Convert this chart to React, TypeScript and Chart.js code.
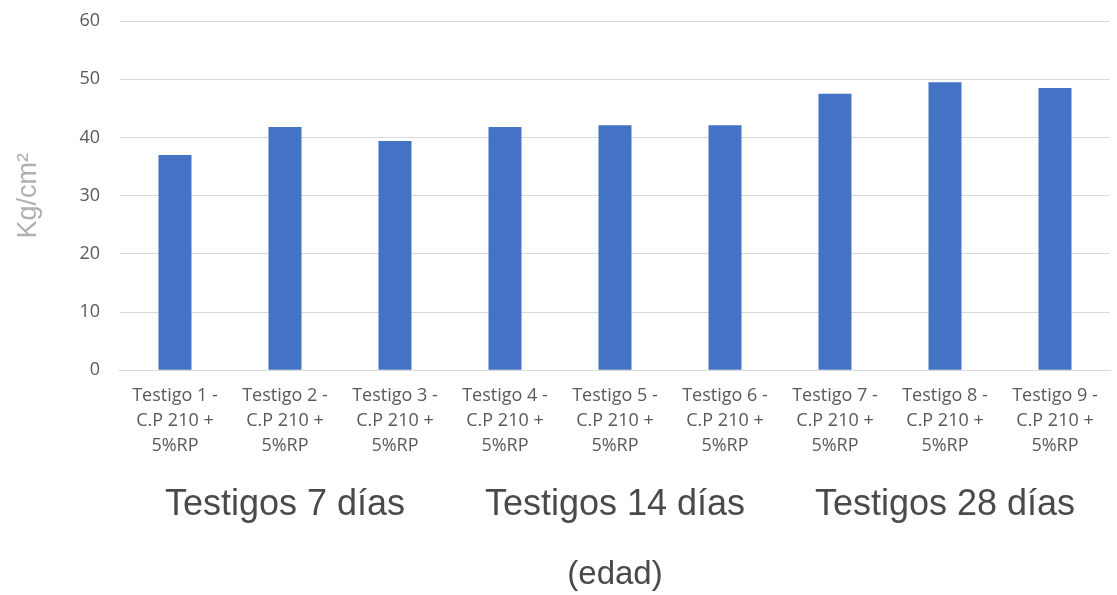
import React, { useEffect, useRef } from "react";
import { Chart, registerables } from "chart.js";

Chart.register(...registerables);

const categories: string[][] = [
  ["Testigo 1 -", "C.P 210 +", "5%RP"],
  ["Testigo 2 -", "C.P 210 +", "5%RP"],
  ["Testigo 3 -", "C.P 210 +", "5%RP"],
  ["Testigo 4 -", "C.P 210 +", "5%RP"],
  ["Testigo 5 -", "C.P 210 +", "5%RP"],
  ["Testigo 6 -", "C.P 210 +", "5%RP"],
  ["Testigo 7 -", "C.P 210 +", "5%RP"],
  ["Testigo 8 -", "C.P 210 +", "5%RP"],
  ["Testigo 9 -", "C.P 210 +", "5%RP"],
];
const values: number[] = [37, 41.8, 39.4, 41.8, 42.1, 42.1, 47.5, 49.5, 48.5];
const groupLabels: string[] = ["Testigos 7 días", "Testigos 14 días", "Testigos 28 días"];
const groupSpans: number[][] = [[0, 2], [3, 5], [6, 8]];
const yTitle = "Kg/cm²";
const xTitle = "(edad)";

const groupPlugin = {
  id: "groupLabels",
  afterDraw(chart: any) {
    const { ctx, chartArea, scales } = chart;
    const x = scales.x;
    ctx.save();
    ctx.font = '36px "Liberation Sans", Arial, sans-serif';
    ctx.fillStyle = "#4a4a4a";
    ctx.textAlign = "center";
    ctx.textBaseline = "alphabetic";
    groupSpans.forEach((span, i) => {
      const cx = (x.getPixelForValue(span[0]) + x.getPixelForValue(span[1])) / 2;
      ctx.fillText(groupLabels[i], cx, chartArea.bottom + 145);
    });
    ctx.restore();
  },
};

export default function App() {
  const ref = useRef<HTMLCanvasElement>(null);
  useEffect(() => {
    document.body.style.margin = "0";
    const chart = new Chart(ref.current!, {
      type: "bar",
      data: {
        labels: categories as any,
        datasets: [
          {
            data: values,
            backgroundColor: "#4472c4",
            categoryPercentage: 1,
            barPercentage: 0.3,
          },
        ],
      },
      options: {
        animation: false,
        responsive: false,
        maintainAspectRatio: false,
        layout: { padding: { left: 12, right: 7, top: 21, bottom: 0 } },
        plugins: { legend: { display: false }, tooltip: { enabled: false } },
        scales: {
          x: {
            grid: { display: false },
            border: { color: "#d9d9d9", width: 1 },
            ticks: {
              color: "#595959",
              font: { family: '"Open Sans", sans-serif', size: 18, lineHeight: 1.39 },
              maxRotation: 0,
              autoSkip: false,
              padding: 5,
            },
            title: {
              display: true,
              text: xTitle,
              color: "#4a4a4a",
              font: { family: '"Liberation Sans", Arial, sans-serif', size: 33 },
              padding: { top: 92, bottom: 0 },
            },
          },
          y: {
            min: 0,
            max: 60,
            ticks: {
              stepSize: 10,
              color: "#595959",
              font: { family: '"Open Sans", sans-serif', size: 18 },
              padding: 2,
            },
            grid: { color: "#d9d9d9", drawTicks: true, tickLength: 18, tickColor: "rgba(0,0,0,0)" },
            border: { display: false },
            title: {
              display: true,
              text: yTitle,
              color: "#b0b0b0",
              font: { family: '"Liberation Sans", Arial, sans-serif', size: 27 },
              padding: { top: 0, bottom: 33 },
            },
          },
        },
      },
      plugins: [groupPlugin],
    });
    return () => chart.destroy();
  }, []);
  return <canvas ref={ref} width={1117} height={595} style={{ display: "block" }} />;
}
